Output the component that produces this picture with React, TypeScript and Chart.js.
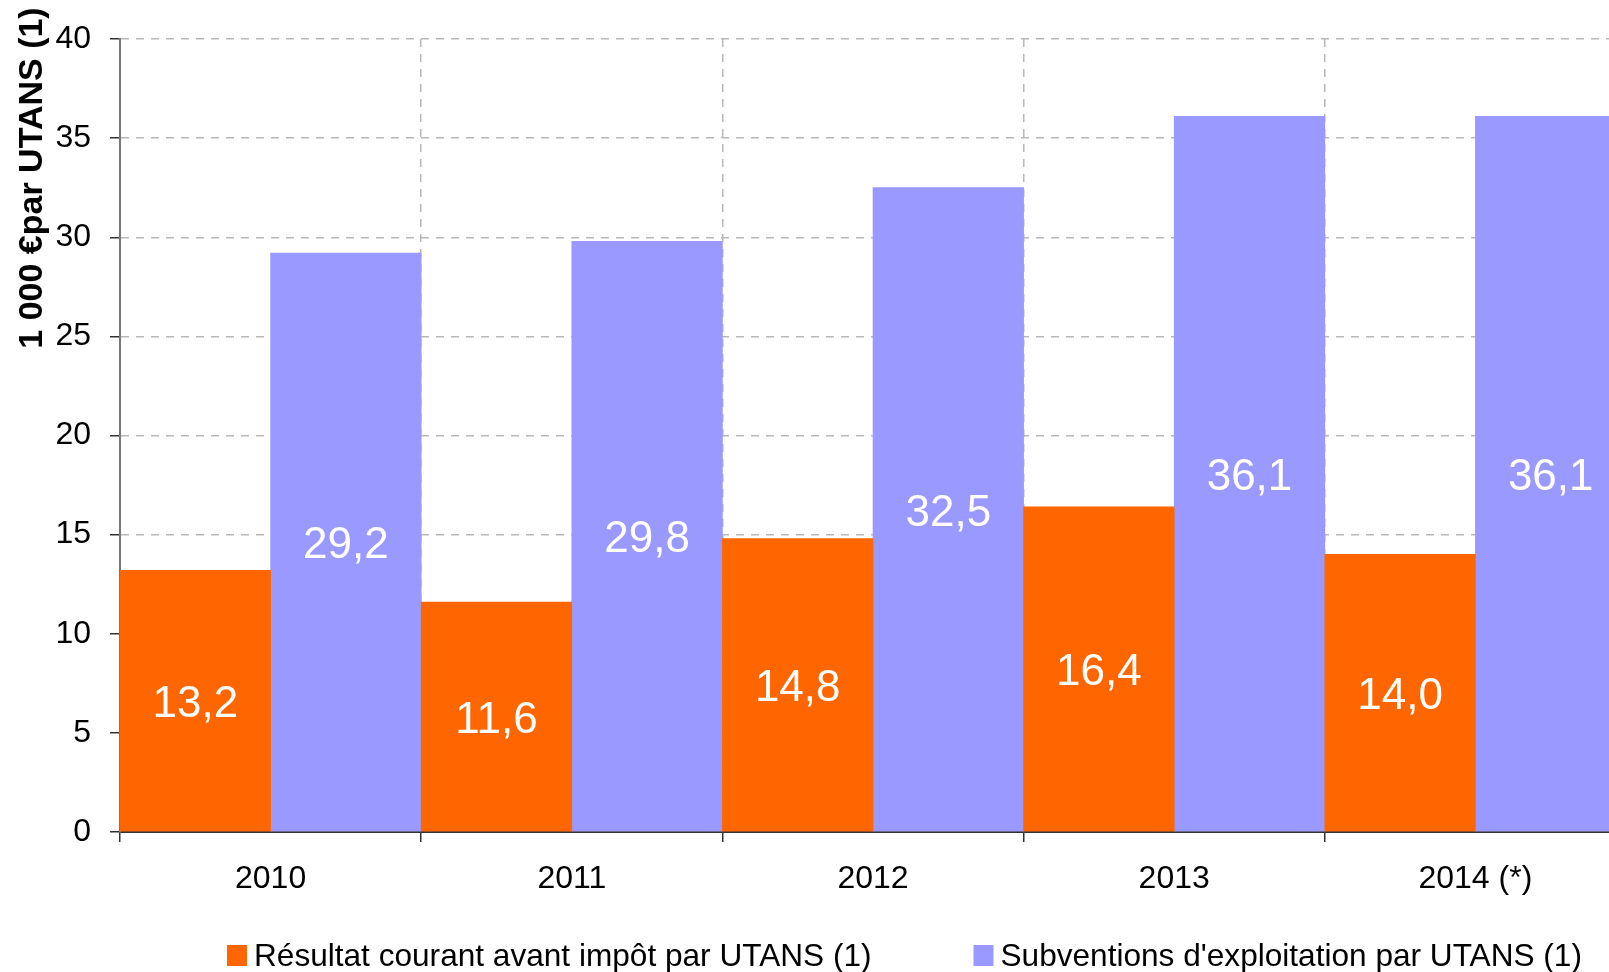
import React, { useEffect, useRef } from "react";
import { Chart, registerables } from "chart.js";

Chart.register(...registerables);

const categories = ["2010", "2011", "2012", "2013", "2014 (*)"];
const resultat = [13.2, 11.6, 14.8, 16.4, 14.0];
const subventions = [29.2, 29.8, 32.5, 36.1, 36.1];
const seriesNames = [
  "Résultat courant avant impôt par UTANS (1)",
  "Subventions d'exploitation par UTANS (1)",
];
const yTitle = "1 000 €par UTANS (1)";
const yMin = 0;
const yMax = 40;
const yStep = 5;

const FONT = "'Liberation Sans', Arial, sans-serif";
const COLORS = ["#FF6600", "#9999FF"];

const overlay = {
  id: "overlay",
  afterDatasetsDraw(chart: any) {
    const ctx = chart.ctx;
    ctx.save();
    ctx.font = `44px ${FONT}`;
    ctx.fillStyle = "#ffffff";
    ctx.textAlign = "center";
    ctx.textBaseline = "middle";
    chart.data.datasets.forEach((ds: any, i: number) => {
      const meta = chart.getDatasetMeta(i);
      meta.data.forEach((bar: any, j: number) => {
        const v = ds.data[j] as number;
        const p = bar.getProps(["x", "y", "base"], true);
        ctx.fillText(v.toFixed(1).replace(".", ","), p.x, (p.y + p.base) / 2 + 4);
      });
    });
    ctx.restore();
  },
  afterDraw(chart: any) {
    const ctx = chart.ctx;
    ctx.save();
    // Y axis title
    ctx.translate(33, 178);
    ctx.rotate(-Math.PI / 2);
    ctx.font = `bold 34px ${FONT}`;
    ctx.fillStyle = "#000";
    ctx.textAlign = "center";
    ctx.textBaseline = "middle";
    ctx.fillText(yTitle, 0, 0);
    ctx.restore();

    // Legend
    ctx.save();
    ctx.font = `31.6px ${FONT}`;
    ctx.textBaseline = "middle";
    ctx.textAlign = "left";
    let x = 227;
    const cy = 956;
    seriesNames.forEach((name, i) => {
      ctx.fillStyle = COLORS[i];
      ctx.fillRect(x, cy - 11, 20, 21);
      ctx.fillStyle = "#000";
      ctx.fillText(name, x + 27, cy + 1);
      const w = ctx.measureText(name).width;
      x = x + 27 + w + 102;
    });
    ctx.restore();
  },
};

export default function App() {
  const ref = useRef<HTMLCanvasElement | null>(null);

  useEffect(() => {
    if (!ref.current) return;
    const chart = new Chart(ref.current, {
      type: "bar",
      data: {
        labels: categories,
        datasets: [
          {
            label: seriesNames[0],
            data: resultat,
            backgroundColor: COLORS[0],
            borderWidth: 0,
            barPercentage: 1,
            categoryPercentage: 1,
          },
          {
            label: seriesNames[1],
            data: subventions,
            backgroundColor: COLORS[1],
            borderWidth: 0,
            barPercentage: 1,
            categoryPercentage: 1,
          },
        ],
      },
      options: {
        responsive: false,
        animation: false,
        layout: { padding: { top: 39, right: 14, bottom: 0, left: 0 } },
        plugins: {
          legend: { display: false },
          tooltip: { enabled: false },
        },
        scales: {
          x: {
            offset: true,
            grid: {
              offset: true,
              color: "#b8b8b8",
              lineWidth: 1.5,
              drawTicks: true,
              tickLength: 10,
              tickColor: "#333",
              tickWidth: 1.5,
            },
            border: { display: true, color: "#333", width: 2, dash: [8, 7] },
            ticks: {
              color: "#000",
              font: { size: 32, family: FONT },
              padding: 18,
              maxRotation: 0,
              autoSkip: false,
            },
            afterFit: (s: any) => {
              s.height = 140;
            },
          },
          y: {
            min: yMin,
            max: yMax,
            grid: {
              color: "#b8b8b8",
              lineWidth: 1.5,
              tickLength: 10,
              tickColor: "#333",
              tickWidth: 1.5,
            },
            border: { display: true, color: "#777", width: 2, dash: [8, 7] },
            ticks: {
              stepSize: yStep,
              color: "#000",
              font: { size: 32, family: FONT },
              padding: 19,
            },
            afterFit: (s: any) => {
              s.width = 120;
            },
          },
        },
      },
      plugins: [overlay],
    });
    return () => chart.destroy();
  }, []);

  return (
    <div
      style={{
        position: "absolute",
        left: 0,
        top: 0,
        width: 1609,
        height: 972,
        overflow: "hidden",
        background: "#fff",
      }}
    >
      <canvas
        ref={ref}
        width={1640}
        height={972}
        style={{ display: "block", width: 1640, height: 972 }}
      />
    </div>
  );
}
